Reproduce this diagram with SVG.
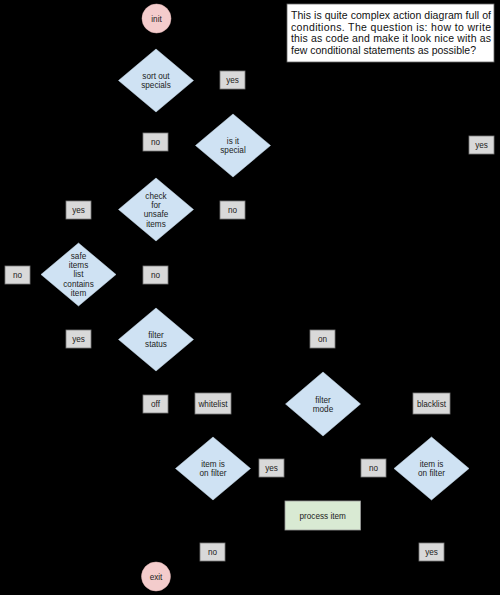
<svg xmlns="http://www.w3.org/2000/svg" width="500" height="595" viewBox="0 0 500 595">
<style>
text{font-family:"Liberation Sans",Arial,sans-serif;font-size:8.2px;fill:#222;text-anchor:middle}
.d{fill:#cfe2f3;stroke:#cfe2f3;stroke-width:0.5}
.c{fill:#f4cccc;stroke:#e6b8b8;stroke-width:0.5}
.l{fill:#d9d9d9;stroke:#7a7a7a;stroke-width:0.8}
.p{fill:#d9ead3;stroke:#9a9a9a;stroke-width:0.8}
.note{fill:#ffffff;stroke:#666;stroke-width:0.8}
.nt{font-size:10.5px;text-anchor:start;fill:#111}
</style>
<rect x="0" y="0" width="500" height="595" fill="#000"/>
<g id="connectors"/>
<g id="init"><circle class="c" cx="156.5" cy="18.5" r="14.5"/><text x="156.5" y="21.5">init</text></g>
<g id="note"><rect class="note" x="287" y="4" width="207" height="58"/>
<text class="nt" x="291" y="19" textLength="200" lengthAdjust="spacing">This is quite complex action diagram full of</text>
<text class="nt" x="291" y="30.7" textLength="200" lengthAdjust="spacing">conditions. The question is: how to write</text>
<text class="nt" x="291" y="42.4" textLength="200" lengthAdjust="spacing">this as code and make it look nice with as</text>
<text class="nt" x="291" y="54.1">few conditional statements as possible?</text></g>
<g id="sortSpecials"><polygon class="d" points="156,49 193.5,80.5 156,112 118.5,80.5"/><text x="156" y="79">sort out</text><text x="156" y="88.2">specials</text></g>
<g id="lblYes1"><rect class="l" x="220" y="71" width="25" height="18"/><text x="232.5" y="83">yes</text></g>
<g id="lblNo1"><rect class="l" x="143" y="133" width="25" height="18"/><text x="155.5" y="145">no</text></g>
<g id="isSpecial"><polygon class="d" points="233,114 270.5,145.5 233,177 195.5,145.5"/><text x="233" y="144">is it</text><text x="233" y="153.2">special</text></g>
<g id="lblYes2"><rect class="l" x="469" y="136" width="25" height="18"/><text x="481.5" y="148">yes</text></g>
<g id="checkUnsafe"><polygon class="d" points="156,178 193.5,209.5 156,241 118.5,209.5"/><text x="156" y="198.7">check</text><text x="156" y="208">for</text><text x="156" y="217.3">unsafe</text><text x="156" y="226.6">items</text></g>
<g id="lblYes3"><rect class="l" x="66" y="201" width="25" height="18"/><text x="78.5" y="213">yes</text></g>
<g id="lblNo2"><rect class="l" x="220" y="201" width="25" height="18"/><text x="232.5" y="213">no</text></g>
<g id="safeList"><polygon class="d" points="78.5,243 116,274.5 78.5,306 41,274.5"/><text x="78.5" y="258.7">safe</text><text x="78.5" y="268">items</text><text x="78.5" y="277.3">list</text><text x="78.5" y="286.6">contains</text><text x="78.5" y="295.9">item</text></g>
<g id="lblNo3"><rect class="l" x="5" y="266" width="25" height="18"/><text x="17.5" y="278">no</text></g>
<g id="lblNo4"><rect class="l" x="143" y="266" width="25" height="18"/><text x="155.5" y="278">no</text></g>
<g id="filterStatus"><polygon class="d" points="156,308 193.5,339.5 156,371 118.5,339.5"/><text x="156" y="338">filter</text><text x="156" y="347.2">status</text></g>
<g id="lblYes4"><rect class="l" x="66" y="330" width="25" height="18"/><text x="78.5" y="342">yes</text></g>
<g id="lblOn"><rect class="l" x="310" y="330" width="25" height="18"/><text x="322.5" y="342">on</text></g>
<g id="filterMode"><polygon class="d" points="323,372 360.5,404 323,436 285.5,404"/><text x="323" y="402.5">filter</text><text x="323" y="411.7">mode</text></g>
<g id="lblOff"><rect class="l" x="143" y="395" width="25" height="18"/><text x="155.5" y="407">off</text></g>
<g id="lblWhitelist"><rect class="l" x="195" y="393" width="36" height="21"/><text x="213" y="406.5">whitelist</text></g>
<g id="lblBlacklist"><rect class="l" x="413" y="393" width="37" height="21"/><text x="431.5" y="406.5">blacklist</text></g>
<g id="onFilterW"><polygon class="d" points="213,437 250.5,468.5 213,500 175.5,468.5"/><text x="213" y="467">item is</text><text x="213" y="476.2">on filter</text></g>
<g id="lblYes5"><rect class="l" x="259" y="459" width="25" height="18"/><text x="271.5" y="471">yes</text></g>
<g id="lblNo5"><rect class="l" x="361" y="459" width="25" height="18"/><text x="373.5" y="471">no</text></g>
<g id="onFilterB"><polygon class="d" points="431.5,437 469,468.5 431.5,500 394,468.5"/><text x="431.5" y="467">item is</text><text x="431.5" y="476.2">on filter</text></g>
<g id="processItem"><rect class="p" x="285" y="501" width="75.5" height="29"/><text x="322.75" y="518.5">process item</text></g>
<g id="lblNo6"><rect class="l" x="200" y="543" width="25" height="18"/><text x="212.5" y="555">no</text></g>
<g id="lblYes6"><rect class="l" x="419" y="543" width="25" height="18"/><text x="431.5" y="555">yes</text></g>
<g id="exit"><circle class="c" cx="156" cy="576.5" r="14.5"/><text x="156" y="579.5">exit</text></g>
</svg>
